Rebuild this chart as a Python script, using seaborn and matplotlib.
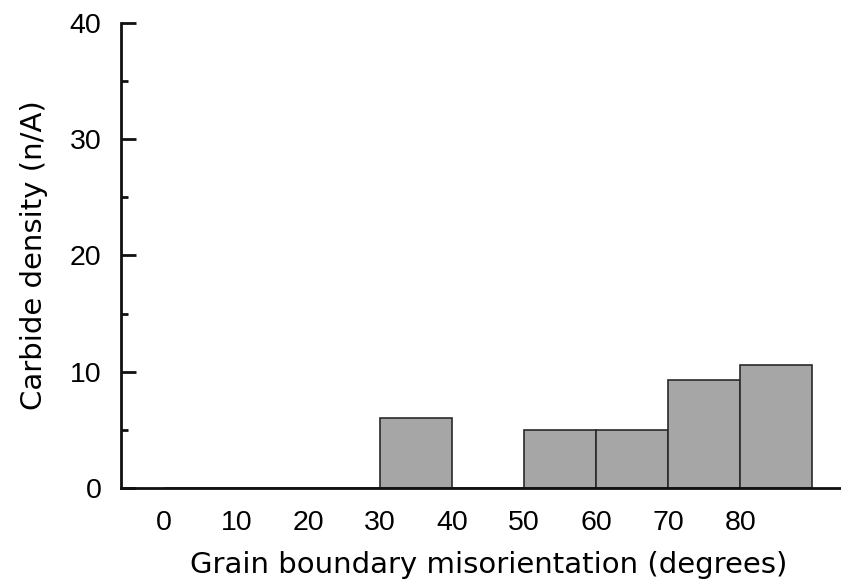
import matplotlib
matplotlib.use("Agg")
import matplotlib.pyplot as plt
import seaborn as sns
import numpy as np

# Misorientation bins (degrees, left edges) and measured carbide density per bin
bin_left = [0, 10, 20, 30, 40, 50, 60, 70, 80]
bin_width = 10
carbide_density = [0, 0, 0, 6.0, 0, 5.0, 5.0, 9.3, 10.6]
x_ticks = [0, 10, 20, 30, 40, 50, 60, 70, 80]
y_ticks = [0, 10, 20, 30, 40]

sns.set_theme(style="ticks")
plt.rcParams["font.family"] = ["Liberation Sans", "DejaVu Sans"]
plt.rcParams["text.color"] = "black"
plt.rcParams["axes.labelcolor"] = "black"
plt.rcParams["xtick.color"] = "black"
plt.rcParams["ytick.color"] = "black"

fig = plt.figure(figsize=(8.41, 5.83), dpi=100)
ax = fig.add_axes([0.1439, 0.163, 0.8561, 0.798])

centers = [b + bin_width / 2 for b in bin_left]
edges = bin_left + [bin_left[-1] + bin_width]
sns.histplot(x=centers, weights=carbide_density, bins=edges, ax=ax,
             stat="count", color="#a6a6a6", alpha=1.0,
             edgecolor="#2a2a2a", linewidth=1.2)

ax.set_xlim(-6, 94)
ax.set_ylim(0, 40)
ax.set_xticks(x_ticks)
ax.set_xticklabels([str(t) for t in x_ticks])
ax.set_yticks(y_ticks)
ax.set_yticks([5, 15, 25, 35], minor=True)

for side in ("top", "right"):
    ax.spines[side].set_visible(False)
for side in ("left", "bottom"):
    ax.spines[side].set_linewidth(2.0)
    ax.spines[side].set_color("#111111")

ax.tick_params(axis="y", which="major", direction="in", length=11, width=2.0,
               color="#111111", labelsize=20.5, pad=14)
ax.tick_params(axis="y", which="minor", direction="in", length=5, width=2.0,
               color="#111111")
ax.tick_params(axis="x", which="major", length=0, labelsize=20.5, pad=16)

label_font = dict(family=["DejaVu Sans"], size=21)
ax.set_xlabel("Grain boundary misorientation (degrees)", fontdict=label_font,
              labelpad=11)
ax.set_ylabel("Carbide density (n/A)", fontdict=label_font, labelpad=16)
ax.xaxis.set_label_coords(0.51, -0.135)
ax.grid(False)

fig.savefig("out.png", dpi=100)
